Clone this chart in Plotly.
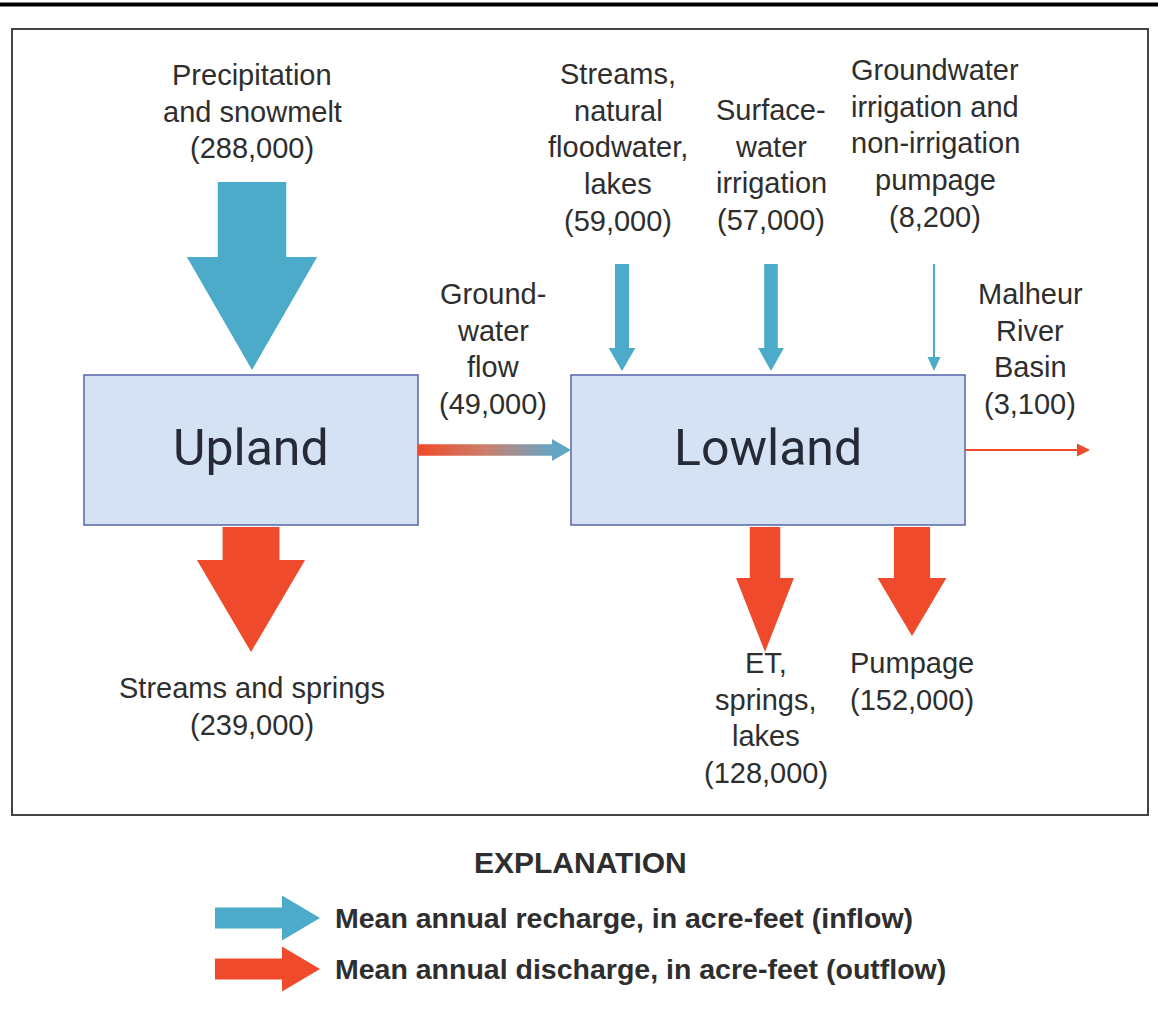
import plotly.graph_objects as go

# ---------------- data ----------------
flow_names = ["Precipitation and snowmelt", "Streams and springs", "Groundwater flow",
              "Streams, natural floodwater, lakes", "Surface-water irrigation",
              "Groundwater irrigation and non-irrigation pumpage", "Malheur River Basin",
              "ET, springs, lakes", "Pumpage"]
flow_values = [288000, 239000, 49000, 59000, 57000, 8200, 3100, 128000, 152000]
flow_kind = ["inflow", "outflow", "transfer", "inflow", "inflow", "inflow", "outflow", "outflow", "outflow"]
label_lines = [
    ["Precipitation", "and snowmelt"],
    ["Streams and springs"],
    ["Ground-", "water", "flow"],
    ["Streams,", "natural", "floodwater,", "lakes"],
    ["Surface-", "water", "irrigation"],
    ["Groundwater", "irrigation and", "non-irrigation", "pumpage"],
    ["Malheur", "River", "Basin"],
    ["ET,", "springs,", "lakes"],
    ["Pumpage"],
]
box_names = ["Upland", "Lowland"]
legend_labels = ["Mean annual recharge, in acre-feet (inflow)",
                 "Mean annual discharge, in acre-feet (outflow)"]

# ---------------- layout / geometry (positions, not data) ----------------
# arrow: (direction, center, start, end, head length)
arrow_geom = [
    ("down", 252, 182, 370, 113),
    ("down", 251, 527, 652, 92),
    ("right", 450, 418, 571, 19),
    ("down", 622, 264, 371, 23),
    ("down", 771, 264, 371, 23),
    ("down", 934, 264, 371, 14),
    ("right", 450, 965, 1090, 13),
    ("down", 765, 527, 652, 74),
    ("down", 912, 527, 636, 58),
]
# label: (center x, first-line center y)
label_pos = [
    (252, 75), (252, 688), (493, 294), (618, 74), (771, 110),
    (935, 70), (1030, 294), (766, 663), (912, 663),
]
box_geom = [(84, 375, 418, 525), (571, 375, 965, 525)]
LINE_STEP = 36.7
VALUE_PER_PX = 4200.0

BLUE = "#4babc8"
RED = "#ee4a2b"
TXT = "#2e2e2e"
FONT = "Liberation Sans, Arial, sans-serif"

fig = go.Figure()
shapes = []
annotations = []


def fmt(v):
    return "({:,})".format(v)


def arrow_path(direction, c, a, b, shaft, headw, headlen):
    hs, hh = shaft / 2.0, headw / 2.0
    m = b - headlen
    if direction == "down":
        pts = [(c - hs, a), (c + hs, a), (c + hs, m), (c + hh, m), (c, b), (c - hh, m), (c - hs, m)]
    else:
        pts = [(a, c - hs), (m, c - hs), (m, c - hh), (b, c), (m, c + hh), (m, c + hs), (a, c + hs)]
    return pts


# frame and top rule
shapes.append(dict(type="line", x0=0, x1=1158, y0=4.5, y1=4.5, line=dict(color="#000", width=4), layer="below"))
shapes.append(dict(type="rect", x0=12, x1=1148, y0=29, y1=815, line=dict(color="#444", width=2),
                   fillcolor="white", layer="below"))

# boxes
for name, (x0, y0, x1, y1) in zip(box_names, box_geom):
    shapes.append(dict(type="rect", x0=x0, x1=x1, y0=y0, y1=y1, fillcolor="#d5e2f4",
                       line=dict(color="#5764aa", width=1.5), layer="below"))
    annotations.append(dict(x=(x0 + x1) / 2, y=(y0 + y1) / 2 - 2, text=name, showarrow=False,
                            font=dict(family="Roboto, sans-serif", size=50, color="#262a36"),
                            xanchor="center", yanchor="middle"))

# flow arrows
for i, v in enumerate(flow_values):
    d, c, a, b, hl = arrow_geom[i]
    shaft = max(2.0, v / VALUE_PER_PX)
    headw = max(shaft * 1.9, 13.0)
    pts = arrow_path(d, c, a, b, shaft, headw, hl)
    xs = [p[0] for p in pts] + [pts[0][0]]
    ys = [p[1] for p in pts] + [pts[0][1]]
    kind = flow_kind[i]
    if kind == "transfer":
        fig.add_trace(go.Scatter(x=xs, y=ys, mode="lines", fill="toself", line=dict(width=0),
                                 fillgradient=dict(type="horizontal",
                                                   colorscale=[[0, "#f04a28"], [0.45, "#c9806f"],
                                                               [0.85, "#6aa3bf"], [1, "#58a8c8"]]),
                                 hoverinfo="skip", showlegend=False))
    else:
        col = BLUE if kind == "inflow" else RED
        fig.add_trace(go.Scatter(x=xs, y=ys, mode="lines", fill="toself", fillcolor=col,
                                 line=dict(width=0, color=col), hoverinfo="skip", showlegend=False))

# labels
for i, lines in enumerate(label_lines):
    x, y = label_pos[i]
    for j, t in enumerate(lines + [fmt(flow_values[i])]):
        annotations.append(dict(x=x, y=y + j * LINE_STEP, text=t, showarrow=False,
                                font=dict(family=FONT, size=29, color=TXT),
                                xanchor="center", yanchor="middle"))

# explanation
annotations.append(dict(x=580, y=862, text="<b>EXPLANATION</b>", showarrow=False,
                        font=dict(family=FONT, size=30, color=TXT), xanchor="center", yanchor="middle"))
leg_geom = [(918, BLUE), (969, RED)]
for (cy, col), lab in zip(leg_geom, legend_labels):
    pts = arrow_path("right", cy, 215, 320, 21, 45, 38)
    xs = [p[0] for p in pts] + [pts[0][0]]
    ys = [p[1] for p in pts] + [pts[0][1]]
    fig.add_trace(go.Scatter(x=xs, y=ys, mode="lines", fill="toself", fillcolor=col,
                             line=dict(width=0, color=col), hoverinfo="skip", showlegend=False))
    annotations.append(dict(x=333, y=cy, text="<b>" + lab + "</b>", showarrow=False,
                            font=dict(family=FONT, size=28.5, color=TXT), xanchor="left", yanchor="middle"))

W, H = 1158, 1010
fig.update_layout(
    width=W, height=H, margin=dict(l=0, r=0, t=0, b=0),
    paper_bgcolor="white", plot_bgcolor="white",
    xaxis=dict(range=[0, W], visible=False, fixedrange=True),
    yaxis=dict(range=[H, 0], visible=False, fixedrange=True),
    shapes=shapes, annotations=annotations, showlegend=False,
)
fig.write_html("out.html", config=dict(displayModeBar=False),
               post_script="document.body.style.margin='0';document.body.style.overflow='hidden';")
